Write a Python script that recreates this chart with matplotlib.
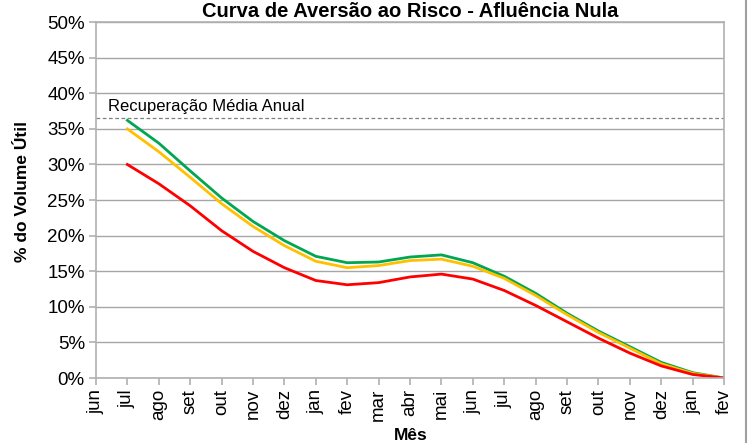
import matplotlib.pyplot as plt
from matplotlib.lines import Line2D

plt.rcParams['font.family'] = ['Liberation Sans', 'DejaVu Sans']

meses = ["jun", "jul", "ago", "set", "out", "nov", "dez", "jan", "fev", "mar", "abr",
         "mai", "jun", "jul", "ago", "set", "out", "nov", "dez", "jan", "fev"]

# curvas (% do volume util), a partir de jul
verde = [36.2, 33.0, 29.1, 25.3, 22.0, 19.3, 17.1, 16.2, 16.3, 17.0, 17.3,
         16.2, 14.3, 11.9, 9.1, 6.6, 4.4, 2.2, 0.75, 0.0]
amarela = [35.0, 31.8, 28.2, 24.5, 21.3, 18.6, 16.4, 15.5, 15.8, 16.5, 16.7,
           15.7, 14.0, 11.6, 8.9, 6.4, 4.2, 2.0, 0.65, 0.0]
vermelha = [30.0, 27.3, 24.2, 20.7, 17.8, 15.5, 13.7, 13.1, 13.4, 14.2, 14.6,
            13.9, 12.3, 10.2, 7.9, 5.6, 3.5, 1.7, 0.5, 0.0]
recuperacao = 36.6

fig = plt.figure(figsize=(7.48, 4.43), dpi=100)
ax = fig.add_axes([0.1283, 0.1467, 0.8397, 0.8033])

x = list(range(1, len(meses)))
ax.plot(x, verde, color="#00a651", lw=2)
ax.plot(x, amarela, color="#ffc000", lw=2)
ax.plot(x, vermelha, color="#ff0000", lw=2)

ax.axhline(recuperacao, color="#808080", lw=0.9, ls=(0, (3, 2)))
ax.text(0.38, recuperacao + 0.5, "Recuperação Média Anual", fontsize=12, va="bottom", ha="left")

ax.set_xlim(0, len(meses) - 1)
ax.set_ylim(0, 50)
ax.set_xticks(range(len(meses)))
ax.set_xticklabels(meses, rotation=90, fontsize=13.5)
ax.set_yticks(range(0, 51, 5))
ax.set_yticklabels([f"{v}%" for v in range(0, 51, 5)], fontsize=13.5)

ax.grid(axis="y", color="#a6a6a6", lw=1)
ax.set_axisbelow(True)
for s in ["left", "bottom", "right", "top"]:
    ax.spines[s].set_color("#b0b0b0")
    ax.spines[s].set_linewidth(1.2)
ax.tick_params(axis="both", direction="out", length=5, color="#b0b0b0", width=1.2, pad=3)

ax.set_title("Curva de Aversão ao Risco - Afluência Nula", fontsize=14.5, fontweight="bold", pad=3.5)
fig.text(23 / 748, 1 - 191 / 443, "% do Volume Útil", rotation=90, fontsize=12.5,
         fontweight="bold", ha="center", va="center")
fig.text(411 / 748, 1 - 436 / 443, "Mês", fontsize=12.5, fontweight="bold", ha="center", va="center")

# borda direita da area do grafico
fig.add_artist(Line2D([0.9973, 0.9973], [0, 1], transform=fig.transFigure, color="#a0a0a0", lw=1.5))

fig.savefig("out.png", dpi=100)
